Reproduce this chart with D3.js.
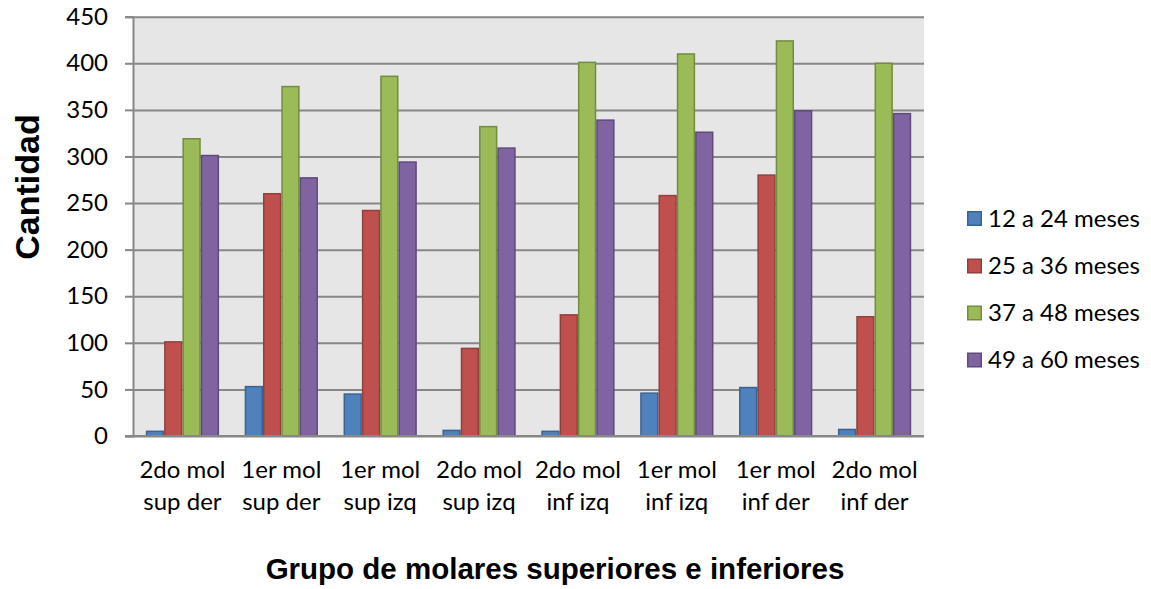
<!DOCTYPE html>
<html>
<head>
<meta charset="utf-8">
<script src="https://cdn.jsdelivr.net/npm/d3@7"></script>
<style>
  html, body { margin: 0; padding: 0; background: #ffffff; }
  svg { display: block; }
</style>
</head>
<body>
<svg id="chart" width="1151" height="589"></svg>
<script>
// Molar groups (two-line labels)
const categories = [
  ["2do mol", "sup der"],
  ["1er mol", "sup der"],
  ["1er mol", "sup izq"],
  ["2do mol", "sup izq"],
  ["2do mol", "inf izq"],
  ["1er mol", "inf izq"],
  ["1er mol", "inf der"],
  ["2do mol", "inf der"]
];

// Age ranges
const seriesNames = ["12 a 24 meses", "25 a 36 meses", "37 a 48 meses", "49 a 60 meses"];

// Counts per age range, one value per molar group
const meses12a24 = [5, 53, 45, 6, 5, 46, 52, 7];
const meses25a36 = [101, 260, 242, 94, 130, 258, 280, 128];
const meses37a48 = [319, 375, 386, 332, 401, 410, 424, 400];
const meses49a60 = [301, 277, 294, 309, 339, 326, 349, 346];

const yTicks = [0, 50, 100, 150, 200, 250, 300, 350, 400, 450];

const seriesValues = [meses12a24, meses25a36, meses37a48, meses49a60];
const fills   = ["#4F81BD", "#C0504D", "#9BBB59", "#8064A2"];
const strokes = ["#3A6393", "#93403D", "#728C40", "#5F4A7C"];

const svg = d3.select("#chart");
const labelFont = "Lato, 'Open Sans', sans-serif";
const titleFont = "'Liberation Sans', Arial, sans-serif";

const plot = { left: 133, right: 924, top: 16.7, bottom: 436 };

const x = d3.scaleBand()
  .domain(d3.range(categories.length))
  .range([plot.left, plot.right])
  .paddingInner(0.259)
  .paddingOuter(0.1295);

const xs = d3.scaleBand()
  .domain(d3.range(seriesNames.length))
  .range([0, x.bandwidth()]);

const y = d3.scaleLinear().domain([0, 450]).range([plot.bottom, plot.top]);

// plot background
svg.append("rect")
  .attr("x", plot.left).attr("y", plot.top)
  .attr("width", plot.right - plot.left).attr("height", plot.bottom - plot.top)
  .attr("fill", "#E6E6E6");

// gridlines via axis
const yAxis = d3.axisLeft(y).tickValues(yTicks).tickSize(-(plot.right - plot.left)).tickFormat("");
const gGrid = svg.append("g").attr("transform", `translate(${plot.left},0)`).call(yAxis);
gGrid.select(".domain").remove();
gGrid.selectAll(".tick line").attr("stroke", "#878787").attr("stroke-width", 2);

// left tick marks
const yAxisTicks = d3.axisLeft(y).tickValues(yTicks).tickSize(8).tickPadding(17)
  .tickFormat(d3.format("d"));
const gY = svg.append("g").attr("transform", `translate(${plot.left},0)`).call(yAxisTicks);
gY.select(".domain").attr("stroke", "#878787").attr("stroke-width", 2);
gY.selectAll(".tick line").attr("stroke", "#878787").attr("stroke-width", 2);
gY.selectAll(".tick text")
  .attr("font-family", labelFont).attr("font-size", 24).attr("fill", "#000");

// bars
seriesValues.forEach((vals, si) => {
  svg.append("g").selectAll("rect")
    .data(vals)
    .join("rect")
    .attr("x", (d, i) => x(i) + xs(si) + 0.75)
    .attr("y", d => y(d))
    .attr("width", xs.bandwidth() - 1.5)
    .attr("height", d => y(0) - y(d))
    .attr("fill", fills[si])
    .attr("stroke", strokes[si])
    .attr("stroke-width", 1.5);
});

// bottom axis line
const xAxis = d3.axisBottom(x).tickSize(0).tickFormat("");
const gX = svg.append("g").attr("transform", `translate(0,${plot.bottom})`).call(xAxis);
gX.select(".domain").attr("stroke", "#878787").attr("stroke-width", 2)
  .attr("d", `M${plot.left - 8},0H${plot.right}`);

// category labels
const catLabels = svg.append("g").selectAll("text")
  .data(categories)
  .join("text")
  .attr("text-anchor", "middle")
  .attr("font-family", labelFont)
  .attr("font-size", 24)
  .attr("fill", "#000");
catLabels.each(function(d, i) {
  const t = d3.select(this);
  const cx = x(i) + x.bandwidth() / 2;
  t.append("tspan").attr("x", cx).attr("y", 478).text(d[0]);
  t.append("tspan").attr("x", cx).attr("y", 510).text(d[1]);
});

// axis titles
svg.append("text")
  .attr("x", 555).attr("y", 579)
  .attr("text-anchor", "middle")
  .attr("font-family", titleFont).attr("font-weight", "bold").attr("font-size", 29.5)
  .attr("fill", "#000")
  .text("Grupo de molares superiores e inferiores");

svg.append("text")
  .attr("transform", "translate(39,187) rotate(-90)")
  .attr("text-anchor", "middle")
  .attr("font-family", titleFont).attr("font-weight", "bold").attr("font-size", 34)
  .attr("fill", "#000")
  .text("Cantidad");

// legend
const legendY = [218.5, 266, 313, 360];
const legend = svg.append("g").selectAll("g")
  .data(seriesNames)
  .join("g")
  .attr("transform", (d, i) => `translate(967,${legendY[i]})`);
legend.append("rect")
  .attr("x", 0.75).attr("y", -7.5 + 0.75).attr("width", 13.5).attr("height", 13.5)
  .attr("fill", (d, i) => fills[i]).attr("stroke", (d, i) => strokes[i]).attr("stroke-width", 1.5);
legend.append("text")
  .attr("x", 21).attr("y", 8)
  .attr("font-family", labelFont).attr("font-size", 24).attr("fill", "#000")
  .text(d => d);
</script>
</body>
</html>
